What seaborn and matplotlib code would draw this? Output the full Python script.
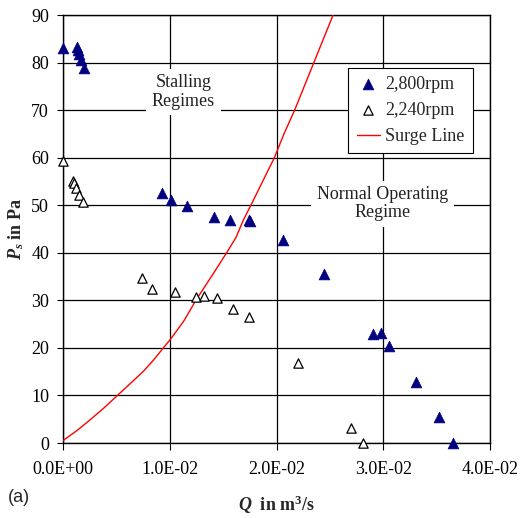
import seaborn as sns
import matplotlib.pyplot as plt
import pandas as pd

# 2,800 rpm (filled triangles)
q_2800 = [0.0, 0.00131, 0.0014, 0.0015, 0.0017, 0.0020, 0.00927, 0.0101, 0.01159,
          0.01415, 0.01564, 0.0174, 0.0175, 0.02064, 0.02445, 0.02907, 0.02979,
          0.03057, 0.03307, 0.03525, 0.03656]
p_2800 = [83.1, 83.3, 82.6, 81.9, 80.5, 78.8, 52.6, 51.1, 49.9,
          47.6, 46.9, 46.9, 46.6, 42.7, 35.5, 22.9, 23.1,
          20.5, 12.9, 5.4, 0.0]

# 2,240 rpm (hollow triangles)
q_2240 = [0.0, 0.00097, 0.00106, 0.00122, 0.00153, 0.00184, 0.00743, 0.00831,
          0.01049, 0.01243, 0.01321, 0.0144, 0.0159, 0.01745, 0.0220, 0.02695, 0.02813]
p_2240 = [59.3, 55.1, 54.6, 53.6, 52.1, 50.6, 34.8, 32.4,
          31.7, 30.6, 30.9, 30.5, 28.1, 26.4, 16.8, 3.1, 0.0]

# surge line
q_surge = [0.0, 0.0013, 0.0025, 0.0038, 0.0051, 0.0063, 0.0075, 0.0085, 0.0094,
           0.0101, 0.0113, 0.0125, 0.0139, 0.0153, 0.0162, 0.0169, 0.0176,
           0.0187, 0.0198, 0.0207, 0.0217, 0.0226, 0.0235, 0.0244, 0.0253]
p_surge = [0.5, 2.6, 4.8, 7.3, 10.0, 12.5, 15.0, 17.5, 20.0,
           21.9, 25.6, 30.2, 35.0, 39.9, 43.2, 46.9, 50.0,
           55.0, 60.0, 65.0, 70.0, 75.0, 80.0, 85.0, 90.0]

x_ticks = [0.0, 0.01, 0.02, 0.03, 0.04]
x_tick_labels = ["0.0E+00", "1.0E-02", "2.0E-02", "3.0E-02", "4.0E-02"]
y_ticks = list(range(0, 100, 10))

sns.set_style("white")
plt.rcParams["font.family"] = "serif"
plt.rcParams["font.serif"] = ["Liberation Serif", "DejaVu Serif"]
plt.rcParams["mathtext.fontset"] = "custom"
plt.rcParams["mathtext.it"] = "Liberation Serif:bold:italic"
plt.rcParams["mathtext.rm"] = "Liberation Serif:bold"
plt.rcParams["mathtext.bf"] = "Liberation Serif:bold"

fig = plt.figure(figsize=(5.23, 5.18), dpi=100)
ax = fig.add_axes([63 / 523, 1 - 443 / 518, 427 / 523, 428 / 518])

df_hi = pd.DataFrame({"Q": q_2800, "P": p_2800})
df_lo = pd.DataFrame({"Q": q_2240, "P": p_2240})
df_surge = pd.DataFrame({"Q": q_surge, "P": p_surge})

sns.scatterplot(data=df_hi, x="Q", y="P", marker="^", s=60, color="#000080",
                edgecolor="#000080", linewidth=0.5, ax=ax, label="2,800rpm",
                clip_on=False, zorder=4)
sns.scatterplot(data=df_lo, x="Q", y="P", marker="^", s=45, facecolor="white",
                edgecolor="black", linewidth=0.9, ax=ax, label="2,240rpm",
                clip_on=False, zorder=4)
sns.lineplot(data=df_surge, x="Q", y="P", sort=False, color="red", linewidth=1.0,
             ax=ax, label="Surge Line", zorder=3)

ax.set_xlim(0, 0.04)
ax.set_ylim(0, 90)
ax.set_xticks(x_ticks)
ax.set_xticklabels(x_tick_labels)
ax.set_yticks(y_ticks)
ax.tick_params(axis="both", labelsize=13, colors="black", direction="out")
ax.tick_params(axis="y", length=4, width=0.8, pad=6, left=True)
ax.tick_params(axis="x", length=5, width=0.8, pad=8, bottom=True)
for lbl in ax.get_xticklabels() + ax.get_yticklabels():
    lbl.set_fontfamily("Liberation Serif")

ax.grid(True, color="black", linewidth=0.9)
ax.set_axisbelow(True)
for sp in ax.spines.values():
    sp.set_color("black")
    sp.set_linewidth(1.0)

ax.set_xlabel(r"$Q$  in m$^3$/s", fontsize=13, fontweight="bold")
ax.set_ylabel(r"$P_s$ in Pa", fontsize=13, fontweight="bold")
ax.xaxis.set_label_coords(0.5, -0.118)
ax.yaxis.set_label_coords(-0.086, 0.5)

box = dict(facecolor="white", edgecolor="none", pad=4)
ax.text(0.01129, 73.8, "Stalling\nRegimes", ha="center", va="center",
        fontsize=13, color="#222222", bbox=box, zorder=2, linespacing=1.1,
        family="Liberation Serif")
ax.text(0.02993, 50.3, "Normal Operating\nRegime", ha="center", va="center",
        fontsize=13, color="#222222", bbox=box, zorder=2, linespacing=1.1,
        family="Liberation Serif")

leg = ax.legend(loc="upper right", bbox_to_anchor=(0.96, 0.876),
                frameon=True, fancybox=False, edgecolor="black", framealpha=1,
                handlelength=1.3, handletextpad=0.3, borderpad=0.45,
                labelspacing=0.5, borderaxespad=0,
                prop={"family": "Liberation Serif", "size": 13})
leg.get_frame().set_linewidth(0.8)

fig.text(8 / 523, 1 - 498 / 518, "(a)", fontsize=13, family="Liberation Sans",
         va="center", ha="left")

fig.savefig("out.png", dpi=100)
